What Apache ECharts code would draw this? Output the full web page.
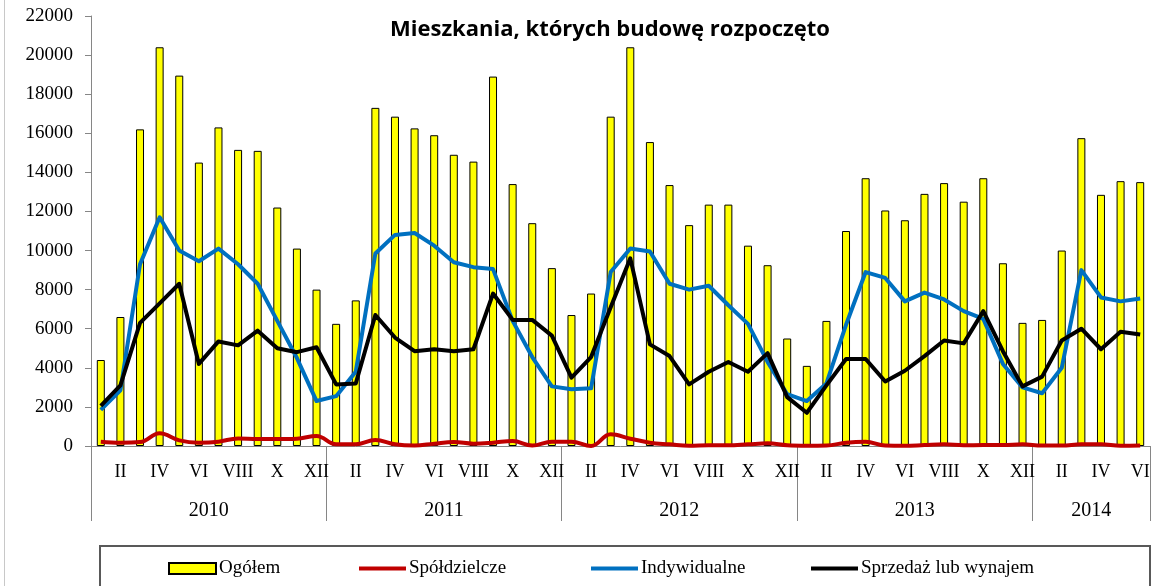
<!DOCTYPE html>
<html>
<head>
<meta charset="utf-8">
<script src="https://cdn.jsdelivr.net/npm/echarts@6/dist/echarts.min.js"></script>
<style>
html,body{margin:0;padding:0;background:#fff;}
#c{width:1158px;height:586px;}
</style>
</head>
<body>
<div id="c"></div>
<script>
// ---- data ----
const months = [
 'I','II','III','IV','V','VI','VII','VIII','IX','X','XI','XII',
 'I','II','III','IV','V','VI','VII','VIII','IX','X','XI','XII',
 'I','II','III','IV','V','VI','VII','VIII','IX','X','XI','XII',
 'I','II','III','IV','V','VI','VII','VIII','IX','X','XI','XII',
 'I','II','III','IV','V','VI'
];
const years = ['2010','2011','2012','2013','2014'];
const monthsPerYear = [12,12,12,12,6];
const yTicks = [0,2000,4000,6000,8000,10000,12000,14000,16000,18000,20000,22000];

const ogolem = [
 4400, 6600, 16200, 20400, 18950, 14500, 16300, 15150, 15100, 12200, 10100, 8000,
 6250, 7450, 17300, 16850, 16250, 15900, 14900, 14550, 18900, 13400, 11400, 9100,
 6700, 7800, 16850, 20400, 15550, 13350, 11300, 12350, 12350, 10250, 9250, 5500,
 4100, 6400, 11000, 13700, 12050, 11550, 12900, 13450, 12500, 13700, 9350, 6300,
 6450, 10000, 15750, 12850, 13550, 13500
];
const spoldzielcze = [
 220, 170, 200, 650, 290, 170, 220, 390, 360, 360, 375, 510,
 85, 85, 310, 85, 20, 120, 205, 120, 170, 255, 20, 220,
 220, 0, 600, 375, 170, 85, 10, 35, 35, 85, 135, 35,
 10, 20, 170, 220, 20, 10, 50, 85, 35, 50, 50, 85,
 20, 20, 85, 85, 10, 20
];
const indywidualne = [
 1850, 2850, 9300, 11700, 10000, 9450, 10100, 9300, 8300, 6400, 4500, 2300,
 2550, 3800, 9850, 10800, 10900, 10250, 9400, 9150, 9050, 6400, 4550, 3050,
 2900, 2950, 8900, 10100, 9950, 8300, 8000, 8200, 7200, 6250, 4300, 2650,
 2300, 3200, 6200, 8900, 8600, 7400, 7850, 7500, 6900, 6500, 4200, 3000,
 2700, 4000, 9000, 7600, 7400, 7550
];
const sprzedaz = [
 2050, 3100, 6300, 7300, 8300, 4200, 5350, 5150, 5900, 5000, 4800, 5050,
 3150, 3200, 6700, 5550, 4850, 4950, 4850, 4950, 7800, 6450, 6450, 5650,
 3500, 4550, 7100, 9600, 5200, 4600, 3150, 3800, 4300, 3800, 4750, 2500,
 1700, 3100, 4450, 4450, 3300, 3850, 4600, 5400, 5250, 6900, 4850, 3050,
 3550, 5400, 6000, 4950, 5850, 5700
];
const seriesNames = ['Ogółem','Spółdzielcze','Indywidualne','Sprzedaż lub wynajem'];
const titleText = 'Mieszkania, których budowę rozpoczęto';

// year boundaries / centres derived from month counts
const yearBounds = [0];
const yearCentres = [];
monthsPerYear.forEach((n,i)=>{ yearCentres.push(yearBounds[i] + n/2); yearBounds.push(yearBounds[i] + n); });
const totalMonths = yearBounds[yearBounds.length-1];

const serif = '"Liberation Serif","Times New Roman",serif';
const grey = '#868686';

const chart = echarts.init(document.getElementById('c'), null, {renderer:'canvas'});
const legendCommon = {
  top: 559, itemWidth: 47, itemHeight: 11, padding: 0, itemGap: 0,
  textStyle: {fontFamily: serif, fontSize: 19, color: '#000', padding:[0,0,0,-2]}
};
chart.setOption({
  animation: false,
  backgroundColor: '#fff',
  title: {
    text: titleText, left: 385, top: 14,
    textStyle: {fontFamily: '"Open Sans","Noto Sans",sans-serif', fontWeight: 'bold', fontSize: 22, color: '#000'}
  },
  graphic: [
    {type:'line', shape:{x1:4.5,y1:0,x2:4.5,y2:586}, style:{stroke:'#c8c8c8', lineWidth:1}, silent:true},
    {type:'rect', shape:{x:100,y:546,width:1050,height:60}, style:{fill:'none', stroke:'#595959', lineWidth:2}, silent:true}
  ],
  legend: [
    Object.assign({}, legendCommon, {left: 168, data:[{name: seriesNames[0], icon:'rect'}]}),
    Object.assign({}, legendCommon, {left: 359, itemHeight: 4, data:[{name: seriesNames[1], icon:'rect', itemStyle:{color:'#C00000', borderWidth:0}}]}),
    Object.assign({}, legendCommon, {left: 591, itemHeight: 4, data:[{name: seriesNames[2], icon:'rect', itemStyle:{color:'#0070C0', borderWidth:0}}]}),
    Object.assign({}, legendCommon, {left: 811, itemHeight: 4, data:[{name: seriesNames[3], icon:'rect', itemStyle:{color:'#000000', borderWidth:0}}]})
  ],
  grid: {left: 91, right: 8, top: 16, bottom: 140, containLabel: false},
  xAxis: [
    {
      type: 'category', data: months, boundaryGap: true, position: 'bottom',
      axisLine: {show: true, lineStyle: {color: grey, width: 1}},
      axisTick: {show: false},
      axisLabel: {interval: (i)=> i % 2 === 1, fontFamily: serif, fontSize: 18, color: '#000', margin: 17},
      splitLine: {show: false}
    },
    {
      type: 'value', min: 0, max: totalMonths, position: 'bottom',
      axisLine: {show: false},
      axisTick: {show: true, customValues: yearBounds, length: 75, lineStyle: {color: grey, width: 1}},
      axisLabel: {customValues: yearCentres, fontFamily: serif, fontSize: 20, color: '#000', margin: 55,
        formatter: (v)=> { const k = yearCentres.indexOf(v); return k >= 0 ? years[k] : ''; }},
      splitLine: {show: false}
    }
  ],
  yAxis: {
    type: 'value', min: yTicks[0], max: yTicks[yTicks.length-1], interval: yTicks[1]-yTicks[0],
    axisLine: {show: true, lineStyle: {color: grey, width: 1}},
    axisTick: {show: true, length: 6, lineStyle: {color: grey}},
    axisLabel: {fontFamily: serif, fontSize: 19, color: '#000', margin: 18, formatter: (v)=> String(v)},
    splitLine: {show: false}
  },
  series: [
    {name: seriesNames[0], type: 'bar', xAxisIndex: 0, data: ogolem, barWidth: 8,
     itemStyle: {color: '#FFFF00', borderColor: '#000', borderWidth: 1}, z: 2},
    {name: seriesNames[1], type: 'line', xAxisIndex: 0, data: spoldzielcze, smooth: 0.4, symbol: 'none',
     lineStyle: {color: '#C00000', width: 4}, itemStyle: {color: '#C00000'}, z: 3},
    {name: seriesNames[2], type: 'line', xAxisIndex: 0, data: indywidualne, smooth: false, symbol: 'none',
     lineStyle: {color: '#0070C0', width: 4, join: 'round'}, itemStyle: {color: '#0070C0'}, z: 4},
    {name: seriesNames[3], type: 'line', xAxisIndex: 0, data: sprzedaz, smooth: false, symbol: 'none',
     lineStyle: {color: '#000000', width: 4, join: 'round'}, itemStyle: {color: '#000000'}, z: 5}
  ]
});
</script>
</body>
</html>
